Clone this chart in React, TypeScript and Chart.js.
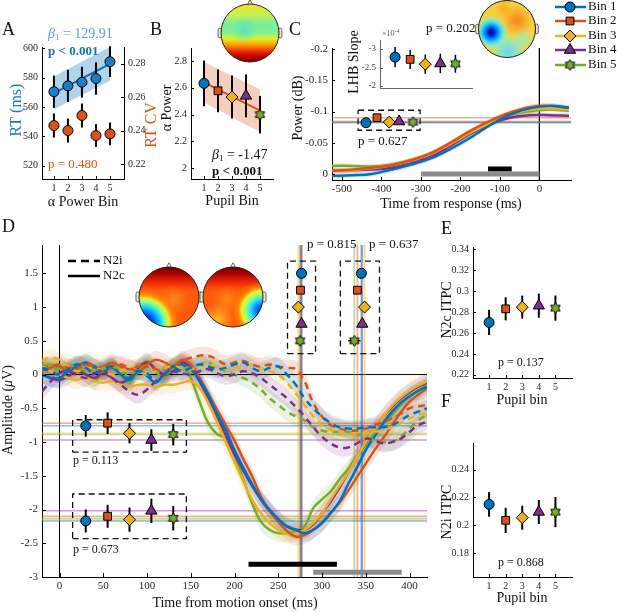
import React, { useEffect, useRef } from 'react';
import { Chart, registerables } from 'chart.js';
import { drawPoint } from 'chart.js/helpers';

Chart.register(...registerables);

const W = 617;
const H = 612;
const SERIF = "'Liberation Serif', 'Times New Roman', Times, serif";

// ---------- shared ----------
const BIN_COLORS = ['#0072BD', '#D95319', '#EDB120', '#7E2F8E', '#77AC30'];
const BIN_NAMES = ['Bin 1', 'Bin 2', 'Bin 3', 'Bin 4', 'Bin 5'];
const BIN_X = [1, 2, 3, 4, 5];
const FIT_X = [1, 5];

// ---------- panel A ----------
const A_RT = [570.5, 574.5, 577, 579.5, 591];
const A_RT_ERR = [11, 11, 10.5, 11, 10.5];
const A_RT_FIT = [569.5, 589.5];
const A_RT_FIT_LO = [558.5, 578];
const A_RT_FIT_HI = [581, 601];
const A_CV = [0.243, 0.24, 0.249, 0.237, 0.238];
const A_CV_ERR = [0.0072, 0.0072, 0.0072, 0.0068, 0.0068];
const A_RT_TICKS = [520, 540, 560, 580, 600];
const A_CV_TICKS = [0.22, 0.24, 0.26, 0.28];

// ---------- panel B ----------
const B_ALPHA = [2.633, 2.578, 2.531, 2.54, 2.4];
const B_ALPHA_ERR = [0.17, 0.16, 0.16, 0.16, 0.14];
const B_FIT = [2.64, 2.43];
const B_FIT_LO = [2.49, 2.27];
const B_FIT_HI = [2.79, 2.59];
const B_TICKS = [2, 2.2, 2.4, 2.6, 2.8];

// ---------- panel C ----------
const C_T = [-525, -475, -425, -375, -325, -275, -225, -175, -125, -75, -25, 25, 75];
const C_BIN1 = [0.003, 0.002, 0.0, -0.007, -0.015, -0.025, -0.04, -0.058, -0.078, -0.095, -0.105, -0.109, -0.106];
const C_BIN2 = [-0.005, -0.007, -0.01, -0.014, -0.022, -0.033, -0.05, -0.069, -0.085, -0.098, -0.107, -0.109, -0.106];
const C_BIN3 = [-0.005, -0.006, -0.009, -0.014, -0.022, -0.032, -0.048, -0.066, -0.082, -0.095, -0.103, -0.105, -0.103];
const C_BIN4 = [-0.005, -0.006, -0.007, -0.01, -0.017, -0.028, -0.045, -0.064, -0.08, -0.09, -0.094, -0.094, -0.093];
const C_BIN5 = [-0.013, -0.013, -0.012, -0.015, -0.022, -0.033, -0.049, -0.067, -0.083, -0.094, -0.1, -0.103, -0.101];
const C_SEM = 0.004;
const C_BOX_X = [-439, -411, -380, -355, -320];
const C_ONSET = [-0.082, -0.09, -0.083, -0.084, -0.083];
const C_ONSET_ERR = [0.004, 0.004, 0.004, 0.004, 0.004];
const C_BOX = { x: [-459, -302], y: [-0.102, -0.07] };
const C_GRAY_BAR = { x: [-300, 0], y: 0 };
const C_BLACK_BAR = { x: [-130, -70], y: -0.008 };
const C_X_TICKS = [-500, -400, -300, -200, -100, 0];
const C_Y_TICKS = [-0.2, -0.15, -0.1, -0.05, 0];
const C_X_RANGE = [-525, 80];
const C_Y_RANGE = [-0.2016, 0.0096];

// ---------- panel C inset ----------
const LHB_SLOPE = [-2.78, -2.72, -2.59, -2.61, -2.6];
const LHB_ERR = [0.27, 0.26, 0.26, 0.26, 0.24];
const LHB_TICKS = [-3, -2.5, -2];

// ---------- panel D ----------
const D_T = [-20, -10, 0, 10, 20, 30, 40, 50, 60, 70, 80, 90, 100, 110, 120, 130, 140, 150, 160, 170, 180, 190, 200, 210, 220, 230, 240, 250, 260, 270, 280, 290, 300, 310, 320, 330, 340, 350, 360, 370, 380, 390, 400, 410, 420];
const D_N2C_B1 = [0.0, -0.05, -0.05, 0.05, 0.12, 0.18, 0.12, 0.05, 0.1, 0.0, -0.08, 0.05, -0.02, -0.12, 0.02, 0.12, 0.15, 0.08, -0.08, -0.3, -0.58, -0.82, -1.12, -1.38, -1.62, -1.84, -2.0, -2.14, -2.25, -2.3, -2.35, -2.3, -2.2, -2.05, -1.88, -1.62, -1.38, -1.12, -0.92, -0.72, -0.55, -0.42, -0.32, -0.24, -0.18];
const D_N2C_B2 = [0.05, 0.1, 0.12, 0.05, 0.08, 0.15, 0.1, 0.12, 0.18, 0.12, 0.08, 0.12, 0.15, 0.22, 0.18, 0.12, 0.22, 0.15, -0.05, -0.28, -0.52, -0.75, -0.98, -1.25, -1.5, -1.8, -2.02, -2.18, -2.32, -2.4, -2.38, -2.3, -2.2, -2.05, -1.9, -1.72, -1.52, -1.32, -1.12, -0.94, -0.75, -0.56, -0.4, -0.3, -0.2];
const D_N2C_B3 = [0.12, 0.05, 0.0, -0.05, -0.08, -0.05, -0.1, -0.12, -0.1, -0.15, -0.18, -0.15, -0.15, -0.18, -0.15, -0.15, -0.12, -0.1, -0.2, -0.42, -0.7, -1.0, -1.3, -1.58, -1.85, -2.05, -2.2, -2.3, -2.36, -2.36, -2.3, -2.2, -2.05, -1.85, -1.65, -1.45, -1.22, -1.0, -0.8, -0.62, -0.46, -0.34, -0.24, -0.16, -0.1];
const D_N2C_B4 = [0.0, -0.05, -0.08, -0.02, 0.05, 0.0, -0.05, 0.02, -0.05, -0.12, -0.05, 0.1, 0.18, 0.08, 0.0, 0.05, 0.18, 0.1, -0.1, -0.35, -0.62, -0.9, -1.18, -1.42, -1.65, -1.85, -2.02, -2.15, -2.25, -2.3, -2.3, -2.22, -2.05, -1.88, -1.68, -1.45, -1.22, -1.0, -0.8, -0.62, -0.48, -0.36, -0.26, -0.18, -0.12];
const D_N2C_B5 = [0.12, 0.15, 0.12, 0.05, 0.15, 0.02, -0.1, 0.05, 0.15, 0.0, -0.12, 0.05, 0.2, 0.05, -0.05, 0.12, 0.18, -0.05, -0.4, -0.72, -0.88, -0.95, -1.2, -1.55, -1.9, -2.18, -2.3, -2.35, -2.35, -2.32, -2.25, -1.98, -1.85, -1.73, -1.55, -1.4, -1.2, -1.05, -0.88, -0.74, -0.6, -0.45, -0.33, -0.24, -0.15];
const D_N2I_B1 = [0.1, 0.05, 0.0, 0.08, 0.15, 0.1, 0.02, 0.08, 0.12, 0.0, -0.05, 0.05, 0.02, -0.1, 0.0, 0.1, 0.05, 0.1, 0.15, 0.12, 0.08, 0.1, 0.15, 0.18, 0.1, 0.05, 0.1, 0.12, 0.0, -0.15, -0.35, -0.5, -0.62, -0.72, -0.78, -0.8, -0.8, -0.78, -0.78, -0.78, -0.75, -0.68, -0.6, -0.55, -0.5];
const D_N2I_B2 = [0.08, 0.12, 0.15, 0.1, 0.12, 0.18, 0.1, 0.05, 0.12, 0.15, 0.1, 0.05, 0.12, 0.08, 0.05, 0.12, 0.2, 0.25, 0.28, 0.28, 0.22, 0.15, 0.18, 0.2, 0.15, 0.12, 0.15, 0.12, 0.1, 0.08, -0.1, -0.42, -0.62, -0.75, -0.8, -0.83, -0.83, -0.8, -0.75, -0.7, -0.65, -0.58, -0.5, -0.47, -0.45];
const D_N2I_B3 = [0.2, 0.25, 0.22, 0.12, 0.05, 0.08, 0.1, 0.05, 0.0, 0.05, 0.1, 0.05, 0.0, 0.05, 0.1, 0.12, 0.1, 0.08, 0.12, 0.15, 0.12, 0.08, 0.1, 0.12, 0.15, 0.1, 0.05, 0.0, -0.12, -0.28, -0.45, -0.62, -0.75, -0.82, -0.86, -0.87, -0.87, -0.87, -0.85, -0.82, -0.78, -0.72, -0.65, -0.6, -0.58];
const D_N2I_B4 = [-0.25, -0.1, 0.02, 0.05, 0.0, -0.05, 0.02, 0.05, -0.05, -0.15, -0.25, -0.3, -0.22, -0.1, 0.0, 0.05, 0.02, 0.0, 0.05, 0.08, 0.02, -0.02, 0.0, 0.05, 0.02, -0.05, -0.15, -0.25, -0.35, -0.48, -0.62, -0.78, -0.92, -1.02, -1.08, -1.08, -1.02, -0.95, -0.98, -1.02, -1.0, -0.95, -0.85, -0.75, -0.7];
const D_N2I_B5 = [0.15, 0.12, 0.08, 0.1, 0.15, 0.12, 0.05, 0.1, 0.12, 0.05, 0.0, 0.08, 0.12, 0.05, 0.0, 0.08, 0.12, 0.1, 0.15, 0.18, 0.1, 0.05, 0.0, -0.05, -0.12, -0.22, -0.35, -0.45, -0.55, -0.62, -0.68, -0.78, -0.83, -0.85, -0.85, -0.85, -0.88, -0.92, -0.98, -1.0, -1.0, -0.92, -0.8, -0.68, -0.6];
const D_SEM = 0.13;
const D_N2C_LAT = [276.6, 275.4, 273, 276.6, 275];
const D_N2C_LAT_ERR = [2, 2, 2, 2, 2];
const D_N2I_LAT = [345, 340.5, 348.6, 346, 337];
const D_N2I_LAT_ERR = [5, 5, 5, 5, 7];
const D_LAT_ROW = [1.5, 1.25, 1.0, 0.75, 0.5];
const D_AMP_X = [30, 55, 80, 105, 130];
const D_N2I_AMP = [-0.76, -0.72, -0.87, -0.97, -0.89];
const D_N2I_AMP_ERR = [0.16, 0.16, 0.15, 0.16, 0.16];
const D_N2C_AMP = [-2.17, -2.1, -2.15, -2.02, -2.13];
const D_N2C_AMP_ERR = [0.17, 0.17, 0.18, 0.18, 0.18];
const D_BOX_N2C_LAT = { x: [260.6, 292.6], y: [0.31, 1.68] };
const D_BOX_N2I_LAT = { x: [321, 365.7], y: [0.31, 1.68] };
const D_BOX_N2I_AMP = { x: [15, 145], y: [-1.15, -0.67] };
const D_BOX_N2C_AMP = { x: [15, 145], y: [-2.43, -1.77] };
const D_BLACK_BAR = { x: [216, 317], y: -2.81 };
const D_GRAY_BAR = { x: [290, 391], y: -2.93 };
const D_X_TICKS = [0, 50, 100, 150, 200, 250, 300, 350, 400];
const D_Y_TICKS = [-3, -2.5, -2, -1.5, -1, -0.5, 0, 0.5, 1, 1.5];
const D_X_RANGE = [-20, 420];
const D_Y_RANGE = [-3, 1.92];

// ---------- panels E, F ----------
const E_N2C_ITPC = [0.27, 0.283, 0.2846, 0.286, 0.2837];
const E_ERR = [0.012, 0.011, 0.011, 0.0115, 0.012];
const E_TICKS = [0.22, 0.24, 0.26, 0.28, 0.3, 0.32, 0.34];
const F_N2I_ITPC = [0.215, 0.2036, 0.2055, 0.2096, 0.2095];
const F_ERR = [0.0088, 0.009, 0.0086, 0.0086, 0.0108];
const F_TICKS = [0.18, 0.2, 0.22, 0.24];

// ---------- helpers ----------
const rgba = (hex: string, a: number) => {
  const n = parseInt(hex.slice(1), 16);
  return `rgba(${(n >> 16) & 255},${(n >> 8) & 255},${n & 255},${a})`;
};
const fmt = (v: number) => String(Math.round(v * 10000) / 10000);
const pts = (xs: number[], ys: number[]) => xs.map((x, i) => ({ x, y: ys[i] }));

function makeHexagram(r: number, fill: string) {
  const s = Math.ceil(r * 2 + 4);
  const c = document.createElement('canvas');
  c.width = s;
  c.height = s;
  const g = c.getContext('2d')!;
  g.translate(s / 2, s / 2);
  g.beginPath();
  for (let k = 0; k < 12; k++) {
    const a = -Math.PI / 2 + (k * Math.PI) / 6;
    const rr = k % 2 === 0 ? r : r / Math.sqrt(3);
    g.lineTo(rr * Math.cos(a), rr * Math.sin(a));
  }
  g.closePath();
  g.fillStyle = fill;
  g.fill();
  g.strokeStyle = '#000';
  g.lineWidth = 1;
  g.stroke();
  return c;
}

type AxisOpt = {
  pos: 'left' | 'right' | 'bottom';
  range: number[];
  ticks: number[];
  size: number;
  font?: number;
  reverse?: boolean;
  labels?: boolean;
  color?: string;
  labelColor?: string;
};
function axis(o: AxisOpt): any {
  const horiz = o.pos === 'bottom';
  return {
    type: 'linear',
    position: o.pos,
    min: o.range[0],
    max: o.range[1],
    reverse: !!o.reverse,
    grid: { display: false, drawTicks: false },
    border: { display: true, color: o.color ?? '#000', width: 1 },
    ticks: {
      display: o.labels !== false,
      font: { family: SERIF, size: o.font ?? 11 },
      color: o.labelColor ?? '#262626',
      padding: horiz ? 3 : 4,
      maxRotation: 0,
      minRotation: 0,
      autoSkip: false,
      callback: (v: any) => fmt(Number(v)),
    },
    afterBuildTicks: (s: any) => {
      s.ticks = o.ticks.map((value) => ({ value }));
    },
    afterFit: (s: any) => {
      if (horiz) s.height = o.size;
      else s.width = o.size;
    },
  };
}

function lineDs(xs: number[], ys: number[], color: string, o: any = {}) {
  return {
    data: pts(xs, ys),
    borderColor: color,
    backgroundColor: color,
    borderWidth: 2,
    pointRadius: 0,
    tension: 0,
    fill: false,
    order: 2,
    ...o,
  };
}
function bandDs(xs: number[], lo: number[], hi: number[], color: string, o: any = {}) {
  const common = { pointRadius: 0, borderWidth: 0, borderColor: 'rgba(0,0,0,0)', tension: o.tension ?? 0, order: o.order ?? 4, yAxisID: o.yAxisID ?? 'y' };
  return [
    { data: pts(xs, hi), backgroundColor: color, fill: '+1', ...common },
    { data: pts(xs, lo), backgroundColor: color, fill: false, ...common },
  ];
}
function boxDs(b: { x: number[]; y: number[] }) {
  const xs = [b.x[0], b.x[1], b.x[1], b.x[0], b.x[0]];
  const ys = [b.y[0], b.y[0], b.y[1], b.y[1], b.y[0]];
  return lineDs(xs, ys, '#111', { borderWidth: 1.3, borderDash: [6, 4], order: 1 });
}
function barDs(b: { x: number[]; y: number }, color: string) {
  return lineDs(b.x, [b.y, b.y], color, { borderWidth: 5, order: 0, borderCapStyle: 'butt' });
}

const MARKER_RADII = [5, 5.5, 6, 6.5, 5.5];
function markerDs(xs: number[], ys: number[], styles: any[], o: any = {}) {
  return {
    data: pts(xs, ys),
    showLine: false,
    pointStyle: styles,
    pointRadius: o.radius ?? MARKER_RADII,
    pointBackgroundColor: o.colors ?? BIN_COLORS,
    pointBorderColor: '#000',
    pointBorderWidth: 1,
    borderColor: '#000',
    backgroundColor: o.colors ?? BIN_COLORS,
    order: -1,
    clip: false,
    ...o.extra,
  };
}

// ---------- plugins ----------
const errorBars = {
  id: 'errorBars',
  beforeDatasetDraw(chart: any, args: any) {
    const ds: any = chart.data.datasets[args.index];
    if (!ds.yErr && !ds.xErr) return;
    const meta = args.meta;
    const xs = chart.scales[meta.xAxisID];
    const ys = chart.scales[meta.yAxisID];
    const ctx = chart.ctx;
    ctx.save();
    ctx.strokeStyle = '#000';
    ctx.lineWidth = ds.errWidth ?? 2;
    ds.data.forEach((p: any, i: number) => {
      const px = xs.getPixelForValue(p.x);
      const py = ys.getPixelForValue(p.y);
      if (ds.yErr) {
        ctx.beginPath();
        ctx.moveTo(px, ys.getPixelForValue(p.y - ds.yErr[i]));
        ctx.lineTo(px, ys.getPixelForValue(p.y + ds.yErr[i]));
        ctx.stroke();
      }
      if (ds.xErr) {
        ctx.beginPath();
        ctx.moveTo(xs.getPixelForValue(p.x - ds.xErr[i]), py);
        ctx.lineTo(xs.getPixelForValue(p.x + ds.xErr[i]), py);
        ctx.stroke();
      }
    });
    ctx.restore();
  },
};

function inTicks(len = 4) {
  return {
    id: 'inTicks',
    afterDatasetsDraw(chart: any) {
      const ctx = chart.ctx;
      ctx.save();
      ctx.lineWidth = 1;
      for (const s of Object.values(chart.scales) as any[]) {
        if (!s.options.display || s.options.ticks.display === false) continue;
        ctx.strokeStyle = s.options.border.color;
        for (const t of s.ticks) {
          const p = Math.round(s.getPixelForValue(t.value)) + 0.5;
          ctx.beginPath();
          if (s.isHorizontal()) {
            ctx.moveTo(p, s.top);
            ctx.lineTo(p, s.top - len);
          } else if (s.position === 'left') {
            ctx.moveTo(s.right, p);
            ctx.lineTo(s.right + len, p);
          } else {
            ctx.moveTo(s.left, p);
            ctx.lineTo(s.left - len, p);
          }
          ctx.stroke();
        }
      }
      ctx.restore();
    },
  };
}

type Part = { t: string; size?: number; style?: string; weight?: string; dy?: number };
type TextItem = { x: number; y: number; parts: Part[] | string; size?: number; color?: string; align?: 'left' | 'center'; rot?: number; weight?: string; style?: string };

function drawRich(ctx: CanvasRenderingContext2D, it: TextItem) {
  const parts: Part[] = typeof it.parts === 'string' ? [{ t: it.parts }] : it.parts;
  const base = it.size ?? 13;
  const fontOf = (p: Part) => `${p.style ?? it.style ?? 'normal'} ${p.weight ?? it.weight ?? 'normal'} ${p.size ?? base}px ${SERIF}`;
  ctx.save();
  ctx.translate(it.x, it.y);
  if (it.rot) ctx.rotate(it.rot);
  ctx.fillStyle = it.color ?? '#111';
  ctx.textBaseline = 'middle';
  ctx.textAlign = 'left';
  let total = 0;
  const widths = parts.map((p) => {
    ctx.font = fontOf(p);
    const w = ctx.measureText(p.t).width;
    total += w;
    return w;
  });
  let cx = it.align === 'center' ? -total / 2 : 0;
  parts.forEach((p, i) => {
    ctx.font = fontOf(p);
    ctx.fillText(p.t, cx, p.dy ?? 0);
    cx += widths[i];
  });
  ctx.restore();
}
function textPlugin(items: TextItem[]) {
  return {
    id: 'richText',
    afterDraw(chart: any) {
      items.forEach((it) => drawRich(chart.ctx, it));
    },
  };
}

// ---------- topoplots ----------
function blob(ctx: CanvasRenderingContext2D, x: number, y: number, rad: number, stops: [number, string][], cx: number, cy: number, r: number) {
  const g = ctx.createRadialGradient(x, y, 0, x, y, rad);
  stops.forEach(([o, c]) => g.addColorStop(o, c));
  ctx.fillStyle = g;
  ctx.fillRect(cx - r, cy - r, 2 * r, 2 * r);
}
function drawHead(ctx: CanvasRenderingContext2D, cx: number, cy: number, r: number, kind: string) {
  ctx.save();
  ctx.lineWidth = 0.8;
  ctx.strokeStyle = '#444';
  ctx.fillStyle = '#f1e6cc';
  for (const s of [-1, 1]) {
    const x = s < 0 ? cx - r - r * 0.1 : cx + r - r * 0.02;
    ctx.beginPath();
    ctx.roundRect(x, cy - r * 0.17, r * 0.12, r * 0.34, 2);
    ctx.fill();
    ctx.stroke();
  }
  ctx.beginPath();
  ctx.moveTo(cx - r * 0.12, cy - r + 2);
  ctx.lineTo(cx, cy - r - r * 0.14);
  ctx.lineTo(cx + r * 0.12, cy - r + 2);
  ctx.closePath();
  ctx.fillStyle = '#f4f4f4';
  ctx.fill();
  ctx.stroke();

  ctx.save();
  ctx.beginPath();
  ctx.arc(cx, cy, r, 0, Math.PI * 2);
  ctx.clip();
  if (kind === 'B') {
    const g = ctx.createLinearGradient(0, cy - r, 0, cy + r);
    [[0, '#efe22a'], [0.18, '#c8ef50'], [0.36, '#74eea0'], [0.5, '#86f090'], [0.6, '#e0f028'], [0.7, '#ffa000'], [0.8, '#f23a00'], [0.9, '#c00000'], [1, '#7a0000']].forEach(([o, c]) => g.addColorStop(o as number, c as string));
    ctx.fillStyle = g;
    ctx.fillRect(cx - r, cy - r, 2 * r, 2 * r);
    blob(ctx, cx - 0.2 * r, cy - 0.1 * r, 0.45 * r, [[0, 'rgba(90,225,190,0.9)'], [1, 'rgba(90,225,190,0)']], cx, cy, r);
  } else if (kind === 'C') {
    ctx.fillStyle = '#f6d23a';
    ctx.fillRect(cx - r, cy - r, 2 * r, 2 * r);
    blob(ctx, cx + 0.35 * r, cy - 0.3 * r, 0.55 * r, [[0, 'rgba(245,130,25,0.95)'], [1, 'rgba(245,130,25,0)']], cx, cy, r);
    blob(ctx, cx - 0.1 * r, cy - 0.7 * r, 0.35 * r, [[0, 'rgba(248,165,40,0.9)'], [1, 'rgba(248,165,40,0)']], cx, cy, r);
    blob(ctx, cx + 0.05 * r, cy + 0.8 * r, 0.7 * r, [[0, 'rgba(100,215,245,1)'], [0.55, 'rgba(140,232,205,0.8)'], [1, 'rgba(190,240,140,0)']], cx, cy, r);
    blob(ctx, cx + 0.6 * r, cy + 0.35 * r, 0.4 * r, [[0, 'rgba(150,235,200,0.9)'], [1, 'rgba(150,235,200,0)']], cx, cy, r);
    blob(ctx, cx - 0.55 * r, cy + 0.12 * r, 0.62 * r, [[0, '#00108a'], [0.18, '#0026d0'], [0.38, '#0090ff'], [0.6, 'rgba(60,220,255,0.9)'], [0.8, 'rgba(120,240,220,0.5)'], [1, 'rgba(150,240,200,0)']], cx, cy, r);
  } else {
    ctx.fillStyle = '#ff5a0c';
    ctx.fillRect(cx - r, cy - r, 2 * r, 2 * r);
    const g = ctx.createLinearGradient(0, cy - r, 0, cy + r);
    [[0, '#700000'], [0.12, '#b00000'], [0.28, 'rgba(235,30,0,0.7)'], [0.45, 'rgba(255,90,10,0)'], [1, 'rgba(255,90,10,0)']].forEach(([o, c]) => g.addColorStop(o as number, c as string));
    ctx.fillStyle = g;
    ctx.fillRect(cx - r, cy - r, 2 * r, 2 * r);
    if (kind === 'D1') {
      blob(ctx, cx + 0.15 * r, cy + 0.1 * r, 0.5 * r, [[0, 'rgba(255,140,20,0.9)'], [1, 'rgba(255,140,20,0)']], cx, cy, r);
      blob(ctx, cx - 0.85 * r, cy + 0.9 * r, 1.25 * r, [[0, '#000070'], [0.15, '#0010d0'], [0.3, '#0060ff'], [0.45, '#10d0ff'], [0.57, '#70ffa0'], [0.68, '#e8f030'], [0.8, 'rgba(255,160,0,0.6)'], [1, 'rgba(255,120,0,0)']], cx, cy, r);
    } else {
      blob(ctx, cx - 0.2 * r, cy + 0.1 * r, 0.5 * r, [[0, 'rgba(255,140,20,0.9)'], [1, 'rgba(255,140,20,0)']], cx, cy, r);
      blob(ctx, cx - 0.5 * r, cy + 0.75 * r, 0.55 * r, [[0, 'rgba(255,205,40,0.8)'], [1, 'rgba(255,205,40,0)']], cx, cy, r);
      blob(ctx, cx + 0.95 * r, cy + 0.45 * r, 1.0 * r, [[0, '#0030e0'], [0.2, '#0080ff'], [0.38, '#30e0ff'], [0.52, '#90ff80'], [0.66, '#f8f020'], [0.8, 'rgba(255,160,0,0.5)'], [1, 'rgba(255,120,0,0)']], cx, cy, r);
    }
  }
  ctx.restore();
  ctx.beginPath();
  ctx.arc(cx, cy, r, 0, Math.PI * 2);
  ctx.strokeStyle = '#222';
  ctx.lineWidth = 1;
  ctx.stroke();
  ctx.restore();
}
function headsPlugin(list: { cx: number; cy: number; r: number; kind: string }[]) {
  return {
    id: 'heads',
    afterDraw(chart: any) {
      list.forEach((h) => drawHead(chart.ctx, h.cx, h.cy, h.r, h.kind));
    },
  };
}

function binLegendPlugin(styles: any[]) {
  const ys = [7, 21, 36, 50, 65];
  return {
    id: 'binLegend',
    afterDraw(chart: any) {
      const ctx = chart.ctx;
      ctx.save();
      BIN_NAMES.forEach((name, i) => {
        ctx.strokeStyle = BIN_COLORS[i];
        ctx.lineWidth = 2.5;
        ctx.beginPath();
        ctx.moveTo(555, ys[i]);
        ctx.lineTo(586, ys[i]);
        ctx.stroke();
        ctx.fillStyle = BIN_COLORS[i];
        ctx.strokeStyle = '#000';
        ctx.lineWidth = 1;
        drawPoint(ctx, { pointStyle: styles[i], radius: MARKER_RADII[i], rotation: 0, borderWidth: 1 } as any, 570, ys[i]);
        drawRich(ctx, { x: 588, y: ys[i], parts: name, size: 13, color: '#111' });
      });
      ctx.restore();
    },
  };
}

function dLegendPlugin() {
  return {
    id: 'dLegend',
    afterDraw(chart: any) {
      const ctx = chart.ctx;
      ctx.save();
      ctx.strokeStyle = '#000';
      ctx.lineWidth = 2.5;
      ctx.setLineDash([8, 5]);
      ctx.beginPath();
      ctx.moveTo(68, 261);
      ctx.lineTo(100, 261);
      ctx.stroke();
      ctx.setLineDash([]);
      ctx.beginPath();
      ctx.moveTo(68, 276);
      ctx.lineTo(100, 276);
      ctx.stroke();
      ctx.restore();
      drawRich(ctx, { x: 103, y: 261, parts: 'N2i', size: 13 });
      drawRich(ctx, { x: 103, y: 276, parts: 'N2c', size: 13 });
    },
  };
}

function makeChart(canvas: HTMLCanvasElement, rect: { l: number; r: number; t: number; b: number }, yw: number, xh: number, rw: number, scales: any, datasets: any[], plugins: any[]) {
  return new Chart(canvas, {
    type: 'line',
    data: { datasets },
    options: {
      responsive: false,
      animation: false,
      events: [],
      layout: {
        autoPadding: false,
        padding: { left: rect.l - yw, right: W - rect.r - rw, top: rect.t, bottom: H - rect.b - xh },
      },
      plugins: { legend: { display: false }, tooltip: { enabled: false } },
      scales,
    } as any,
    plugins: [errorBars, ...plugins],
  });
}

const ROT = -Math.PI / 2;
const beta = (val: string): Part[] => [
  { t: 'β', style: 'italic', size: 14 },
  { t: '1', size: 9, dy: 4 },
  { t: ' = ' + val, size: 14 },
];

export default function App() {
  const canvases = useRef<(HTMLCanvasElement | null)[]>([]);
  useEffect(() => {
    const cv = canvases.current;
    const hex = makeHexagram(5.5, BIN_COLORS[4]);
    const STYLES: any[] = ['circle', 'rect', 'rectRot', 'triangle', hex];
    const ALL_CIRCLES = ['circle', 'circle', 'circle', 'circle', 'circle'];
    const charts: Chart[] = [];

    // ----- A -----
    charts.push(
      makeChart(
        cv[0]!,
        { l: 42, r: 124, t: 47, b: 179 },
        32, 18, 32,
        {
          x: axis({ pos: 'bottom', range: [0.15, 6], ticks: BIN_X, size: 18, font: 10 }),
          y: axis({ pos: 'left', range: [511, 601], ticks: A_RT_TICKS, size: 32, font: 10 }),
          y2: axis({ pos: 'right', range: [0.211, 0.29], ticks: A_CV_TICKS, size: 32, font: 10 }),
        },
        [
          ...bandDs(FIT_X, A_RT_FIT_LO, A_RT_FIT_HI, rgba(BIN_COLORS[0], 0.3)),
          lineDs(FIT_X, A_RT_FIT, BIN_COLORS[0], { borderWidth: 2 }),
          markerDs(BIN_X, A_RT, ALL_CIRCLES, { radius: 5, colors: BIN_X.map(() => '#1f7cc7'), extra: { yErr: A_RT_ERR } }),
          markerDs(BIN_X, A_CV, ALL_CIRCLES, { radius: 5, colors: BIN_X.map(() => BIN_COLORS[1]), extra: { yErr: A_CV_ERR, yAxisID: 'y2' } }),
        ],
        [
          inTicks(3),
          textPlugin([
            { x: 2, y: 30, parts: 'A', size: 18 },
            { x: 150, y: 30, parts: 'B', size: 18 },
            { x: 289, y: 30, parts: 'C', size: 18 },
            { x: 2, y: 227, parts: 'D', size: 18 },
            { x: 441, y: 229, parts: 'E', size: 18 },
            { x: 441, y: 402, parts: 'F', size: 18 },
            { x: 48, y: 34, parts: beta('129.91'), color: '#5aa0d8' },
            { x: 48, y: 52, parts: 'p < 0.001', size: 13, weight: 'bold', color: '#1a6fb8' },
            { x: 48, y: 165, parts: 'p = 0.480', size: 13, color: '#D95319' },
            { x: 17, y: 110, parts: 'RT (ms)', size: 16, color: '#1a78c2', align: 'center', rot: ROT },
            { x: 152, y: 125, parts: 'RT CV', size: 16, color: '#D95319', align: 'center', rot: ROT },
            { x: 83, y: 202, parts: [{ t: 'α' }, { t: ' Power Bin' }], size: 14, align: 'center' },
          ]),
        ],
      ),
    );

    // ----- B -----
    charts.push(
      makeChart(
        cv[1]!,
        { l: 191, r: 273, t: 48, b: 179 },
        32, 18, 0,
        {
          x: axis({ pos: 'bottom', range: [0.07, 5.93], ticks: BIN_X, size: 18, font: 10 }),
          y: axis({ pos: 'left', range: [1.92, 2.897], ticks: B_TICKS, size: 32, font: 10 }),
        },
        [
          ...bandDs(FIT_X, B_FIT_LO, B_FIT_HI, rgba(BIN_COLORS[1], 0.28)),
          lineDs(FIT_X, B_FIT, BIN_COLORS[1], { borderWidth: 2 }),
          markerDs(BIN_X, B_ALPHA, STYLES, { extra: { yErr: B_ALPHA_ERR } }),
        ],
        [
          inTicks(3),
          headsPlugin([{ cx: 250, cy: 33, r: 29, kind: 'B' }]),
          textPlugin([
            { x: 167, y: 108, parts: [{ t: 'α' }, { t: ' Power' }], size: 14, align: 'center', rot: ROT },
            { x: 232, y: 201, parts: 'Pupil Bin', size: 14, align: 'center' },
            { x: 212, y: 155, parts: beta('-1.47') },
            { x: 212, y: 172, parts: 'p < 0.001', size: 13, weight: 'bold' },
          ]),
        ],
      ),
    );

    // ----- C -----
    const cLines = [C_BIN1, C_BIN2, C_BIN3, C_BIN4, C_BIN5];
    const cDatasets: any[] = [];
    C_ONSET.forEach((v, i) => cDatasets.push(lineDs(C_X_RANGE, [v, v], rgba(BIN_COLORS[i], 0.45), { borderWidth: 1.5, order: 5 })));
    cDatasets.push(lineDs([0, 0], C_Y_RANGE, '#000', { borderWidth: 1, order: 5 }));
    cLines.forEach((ys, i) => {
      cDatasets.push(...bandDs(C_T, ys.map((v) => v - C_SEM), ys.map((v) => v + C_SEM), rgba(BIN_COLORS[i], 0.18), { tension: 0.4 }));
    });
    cLines.forEach((ys, i) => cDatasets.push(lineDs(C_T, ys, BIN_COLORS[i], { borderWidth: 2.5, tension: 0.4 })));
    cDatasets.push(boxDs(C_BOX));
    cDatasets.push(barDs(C_GRAY_BAR, '#8c8c8c'));
    cDatasets.push(barDs(C_BLACK_BAR, '#000'));
    cDatasets.push(markerDs(C_BOX_X, C_ONSET, STYLES, { extra: { yErr: C_ONSET_ERR, errWidth: 1.5 } }));
    charts.push(
      makeChart(
        cv[2]!,
        { l: 332, r: 571, t: 48, b: 180 },
        34, 18, 0,
        {
          x: axis({ pos: 'bottom', range: C_X_RANGE, ticks: C_X_TICKS, size: 18 }),
          y: axis({ pos: 'left', range: C_Y_RANGE, ticks: C_Y_TICKS, size: 34, reverse: true }),
        },
        cDatasets,
        [
          inTicks(3),
          headsPlugin([{ cx: 507, cy: 29, r: 28.5, kind: 'C' }]),
          binLegendPlugin(STYLES),
          textPlugin([
            { x: 298, y: 108, parts: 'Power (dB)', size: 14, align: 'center', rot: ROT },
            { x: 451, y: 204, parts: 'Time from response (ms)', size: 14, align: 'center' },
            { x: 426, y: 29, parts: 'p = 0.202', size: 13 },
            { x: 358, y: 142, parts: 'p = 0.627', size: 13 },
            { x: 354, y: 62, parts: 'LHB Slope', size: 14, align: 'center', rot: ROT },
            { x: 382, y: 34, parts: [{ t: '×10', size: 8 }, { t: '-4', size: 6, dy: -3 }], color: '#555' },
          ]),
        ],
      ),
    );

    // ----- C inset -----
    charts.push(
      makeChart(
        cv[3]!,
        { l: 380, r: 472, t: 40, b: 88 },
        22, 2, 0,
        {
          x: axis({ pos: 'bottom', range: [0, 6.1], ticks: BIN_X, size: 2, labels: false, color: '#666' }),
          y: axis({ pos: 'left', range: [-3.24, -1.95], ticks: LHB_TICKS, size: 22, reverse: true, font: 9, color: '#666', labelColor: '#444' }),
        },
        [markerDs(BIN_X, LHB_SLOPE, STYLES, { extra: { yErr: LHB_ERR, errWidth: 1.5 } })],
        [inTicks(3)],
      ),
    );

    // ----- D -----
    const n2c = [D_N2C_B1, D_N2C_B2, D_N2C_B3, D_N2C_B4, D_N2C_B5];
    const n2i = [D_N2I_B1, D_N2I_B2, D_N2I_B3, D_N2I_B4, D_N2I_B5];
    const dDs: any[] = [];
    BIN_COLORS.forEach((c, i) => {
      dDs.push(lineDs(D_X_RANGE, [D_N2I_AMP[i], D_N2I_AMP[i]], rgba(c, 0.45), { borderWidth: 1.5, order: 3 }));
      dDs.push(lineDs(D_X_RANGE, [D_N2C_AMP[i], D_N2C_AMP[i]], rgba(c, 0.45), { borderWidth: 1.5, order: 3 }));
      dDs.push(lineDs([D_N2C_LAT[i], D_N2C_LAT[i]], D_Y_RANGE, rgba(c, 0.45), { borderWidth: 1.8, order: 3 }));
      dDs.push(lineDs([D_N2I_LAT[i], D_N2I_LAT[i]], D_Y_RANGE, rgba(c, 0.45), { borderWidth: 1.8, order: 3 }));
    });
    dDs.push(lineDs([0, 0], D_Y_RANGE, '#000', { borderWidth: 1, order: 3 }));
    dDs.push(lineDs(D_X_RANGE, [0, 0], '#000', { borderWidth: 1, order: 3 }));
    [...n2i, ...n2c].forEach((ys, k) => {
      const c = BIN_COLORS[k % 5];
      dDs.push(...bandDs(D_T, ys.map((v) => v - D_SEM), ys.map((v) => v + D_SEM), rgba(c, 0.15), { tension: 0.4 }));
    });
    n2i.forEach((ys, i) => dDs.push(lineDs(D_T, ys, BIN_COLORS[i], { borderWidth: 2.5, tension: 0.4, borderDash: [7, 5] })));
    n2c.forEach((ys, i) => dDs.push(lineDs(D_T, ys, BIN_COLORS[i], { borderWidth: 2.5, tension: 0.4 })));
    dDs.push(boxDs(D_BOX_N2C_LAT), boxDs(D_BOX_N2I_LAT), boxDs(D_BOX_N2I_AMP), boxDs(D_BOX_N2C_AMP));
    dDs.push(barDs(D_BLACK_BAR, '#000'), barDs(D_GRAY_BAR, '#8c8c8c'));
    dDs.push(markerDs(D_N2C_LAT, D_LAT_ROW, STYLES, { extra: { xErr: D_N2C_LAT_ERR, errWidth: 1.5 } }));
    dDs.push(markerDs(D_N2I_LAT, D_LAT_ROW, STYLES, { extra: { xErr: D_N2I_LAT_ERR, errWidth: 1.5 } }));
    dDs.push(markerDs(D_AMP_X, D_N2I_AMP, STYLES, { extra: { yErr: D_N2I_AMP_ERR } }));
    dDs.push(markerDs(D_AMP_X, D_N2C_AMP, STYLES, { extra: { yErr: D_N2C_AMP_ERR } }));
    charts.push(
      makeChart(
        cv[4]!,
        { l: 42, r: 427, t: 245, b: 577 },
        32, 18, 0,
        {
          x: axis({ pos: 'bottom', range: D_X_RANGE, ticks: D_X_TICKS, size: 18 }),
          y: axis({ pos: 'left', range: D_Y_RANGE, ticks: D_Y_TICKS, size: 32 }),
        },
        dDs,
        [
          inTicks(4),
          headsPlugin([
            { cx: 169, cy: 297, r: 30, kind: 'D1' },
            { cx: 233, cy: 297, r: 30, kind: 'D2' },
          ]),
          dLegendPlugin(),
          textPlugin([
            { x: 8, y: 410, parts: [{ t: 'Amplitude (' }, { t: 'μ', style: 'italic' }, { t: 'V)' }], size: 14, align: 'center', rot: ROT },
            { x: 235, y: 603, parts: 'Time from motion onset (ms)', size: 14, align: 'center' },
            { x: 307, y: 245, parts: 'p = 0.815', size: 13 },
            { x: 369, y: 245, parts: 'p = 0.637', size: 13 },
            { x: 73, y: 461, parts: 'p = 0.113', size: 12 },
            { x: 73, y: 550, parts: 'p = 0.673', size: 12 },
          ]),
        ],
      ),
    );

    // ----- E -----
    charts.push(
      makeChart(
        cv[5]!,
        { l: 473, r: 572, t: 247, b: 378 },
        32, 18, 0,
        {
          x: axis({ pos: 'bottom', range: [0.03, 6], ticks: BIN_X, size: 18, font: 10 }),
          y: axis({ pos: 'left', range: [0.217, 0.342], ticks: E_TICKS, size: 32, font: 10 }),
        },
        [markerDs(BIN_X, E_N2C_ITPC, STYLES, { extra: { yErr: E_ERR } })],
        [
          inTicks(3),
          textPlugin([
            { x: 447, y: 310, parts: 'N2c ITPC', size: 14, align: 'center', rot: ROT },
            { x: 522, y: 400, parts: 'Pupil bin', size: 14, align: 'center' },
            { x: 498, y: 363, parts: 'p = 0.137', size: 12 },
          ]),
        ],
      ),
    );

    // ----- F -----
    charts.push(
      makeChart(
        cv[6]!,
        { l: 473, r: 572, t: 443, b: 577 },
        32, 18, 0,
        {
          x: axis({ pos: 'bottom', range: [0.03, 6], ticks: BIN_X, size: 18, font: 10 }),
          y: axis({ pos: 'left', range: [0.163, 0.259], ticks: F_TICKS, size: 32, font: 10 }),
        },
        [markerDs(BIN_X, F_N2I_ITPC, STYLES, { extra: { yErr: F_ERR } })],
        [
          inTicks(3),
          textPlugin([
            { x: 447, y: 512, parts: 'N2i ITPC', size: 14, align: 'center', rot: ROT },
            { x: 522, y: 598, parts: 'Pupil bin', size: 14, align: 'center' },
            { x: 498, y: 563, parts: 'p = 0.868', size: 12 },
          ]),
        ],
      ),
    );

    return () => charts.forEach((c) => c.destroy());
  }, []);

  return (
    <div style={{ position: 'absolute', left: 0, top: 0, width: W, height: H, background: '#fff', overflow: 'hidden' }}>
      {[0, 1, 2, 3, 4, 5, 6].map((i) => (
        <canvas
          key={i}
          ref={(el) => {
            canvases.current[i] = el;
          }}
          width={W}
          height={H}
          style={{ position: 'absolute', left: 0, top: 0, width: W, height: H }}
        />
      ))}
    </div>
  );
}
